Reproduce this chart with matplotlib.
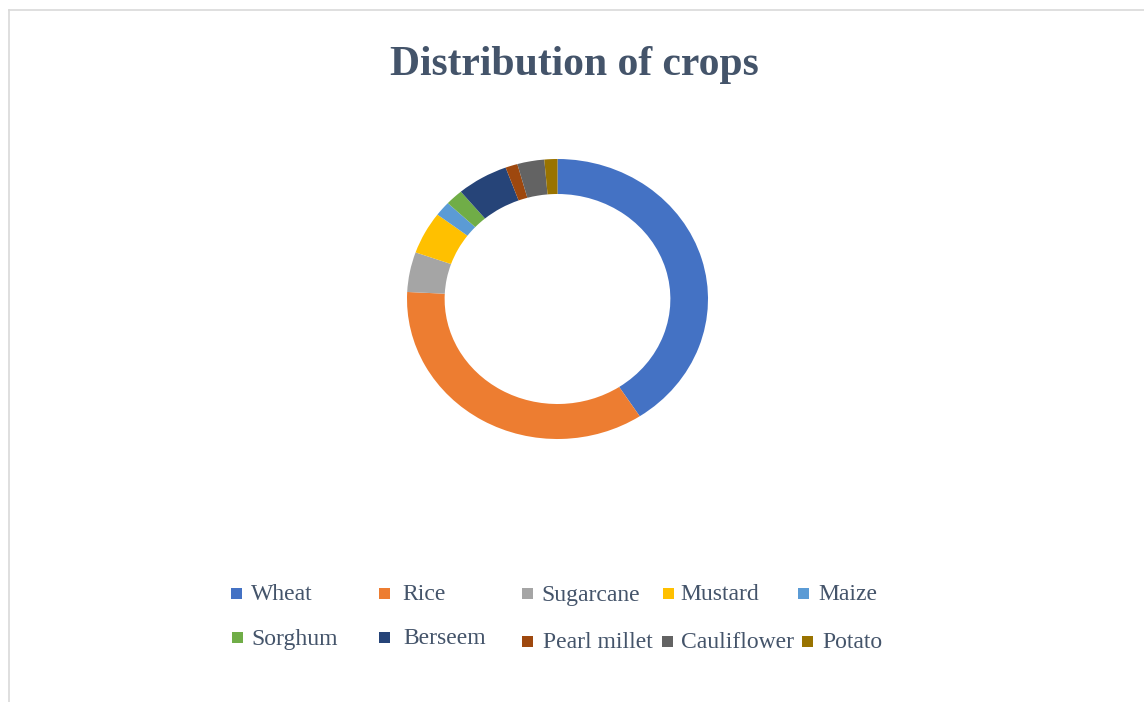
"""Donut chart: distribution of crops."""

import matplotlib.pyplot as plt
from matplotlib.lines import Line2D
from matplotlib.patches import Rectangle

crops = ["Wheat", "Rice", "Sugarcane", "Mustard", "Maize",
         "Sorghum", "Berseem", "Pearl millet", "Cauliflower", "Potato"]
share = [40.8, 35.0, 4.6, 4.9, 1.7, 1.9, 5.5, 1.3, 2.9, 1.4]
colors = ["#4472C4", "#ED7D31", "#A5A5A5", "#FFC000", "#5B9BD5",
          "#70AD47", "#264478", "#9E480E", "#636363", "#997300"]

W, H = 1144, 702
TEXT = "#44546A"

fig = plt.figure(figsize=(W / 100, H / 100), dpi=100)


def fx(px):
    return px / W


def fy(py):
    return 1 - py / H


# chart border (only top and left edges visible)
fig.add_artist(Line2D([fx(9), 1], [fy(10), fy(10)], color="#D9D9D9", lw=1.2))
fig.add_artist(Line2D([fx(9), fx(9)], [fy(10), 0], color="#D9D9D9", lw=1.2))

# donut, slightly wider than tall as in the source
cx, cy, rx, ry = 557.5, 299, 150.5, 140
ax = fig.add_axes([fx(cx - rx), fy(cy + ry), fx(2 * rx), 2 * ry / H])
ax.pie(share, colors=colors, startangle=90, counterclock=False, radius=1,
       wedgeprops=dict(width=0.25, linewidth=0))
ax.set_aspect("auto")
ax.set_xlim(-1, 1)
ax.set_ylim(-1, 1)
ax.axis("off")

fig.text(fx(574.5), fy(75), "Distribution of crops", ha="center", va="baseline",
         fontsize=30, fontweight="bold", family="Liberation Serif", color=TEXT)

# legend laid out like the source: 5 columns, 2 rows
marker_x = [236, 384, 527, 668, 803, 237, 384, 527, 667, 807]
text_x = [251, 402, 541, 680, 818, 251, 403, 543, 681, 822]
row_y = [593, 593, 593, 593, 593, 637, 637, 641, 641, 641]
sq = 11
for i, name in enumerate(crops):
    fig.add_artist(Rectangle((fx(marker_x[i] - sq / 2), fy(row_y[i] + sq / 2)),
                             fx(sq), sq / H, transform=fig.transFigure,
                             facecolor=colors[i], edgecolor="none"))
    fig.text(fx(text_x[i]), fy(row_y[i] + 2), name, ha="left", va="center",
             fontsize=17, family="Liberation Serif", color=TEXT)

fig.savefig("out.png", dpi=100)
